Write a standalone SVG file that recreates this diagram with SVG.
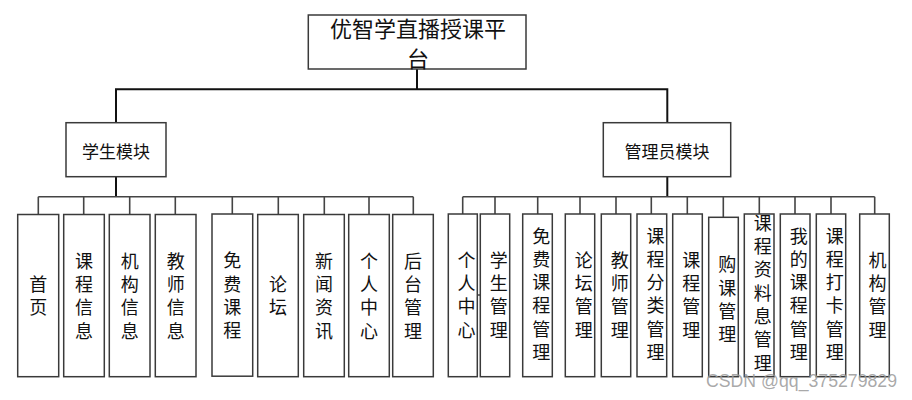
<svg xmlns="http://www.w3.org/2000/svg" width="912" height="400" viewBox="0 0 912 400">
<style>
.bx{fill:#fff;stroke:#3a3a3a;stroke-width:1.5}
.cj{font-family:"Noto Sans CJK SC","Noto Sans CJK JP",sans-serif;fill:#111;text-anchor:middle}
.h{dominant-baseline:central}
.t1{font-size:22px}
.t2{font-size:17px}
.v{font-size:18px;writing-mode:vertical-rl;letter-spacing:5.3px}
.ln{fill:none;stroke:#111;stroke-width:2}
.ln2{fill:none;stroke:#444;stroke-width:1.6}
.wm{font-family:"Liberation Sans",Arial,sans-serif;font-size:17.5px;fill:#9a9a9a;fill-opacity:0.85}
</style>
<rect width="912" height="400" fill="#fff"/>
<g id="connectors">
<path class="ln" d="M417 69V89.3M116 89.3H667.3M116 88.3V122.7M667.3 88.3V122.7"/>
<path class="ln" d="M116 176.7V196.7M667.3 176.7V196.7"/>
<path class="ln2" d="M38.3 196.7H413.3M38.3 196.7V214.5M83.7 196.7V214.5M129.7 196.7V214.5M175.3 196.7V214.5M232.3 196.7V214.5M278.3 196.7V214.5M324.3 196.7V214.5M369 196.7V214.5M413.3 196.7V214.5"/>
<path class="ln2" d="M462.7 196.7H874.7M462.7 196.7V214M495 196.7V214M537.7 196.7V214M580 196.7V214M616 196.7V214M651.3 196.7V214M687.3 196.7V214M723.3 196.7V217.3M759.3 196.7V214M795 196.7V214M831 196.7V214M874.7 196.7V214M477.3 295H480.3"/>
</g>
<g id="root">
<rect class="bx" x="308.3" y="15" width="217.7" height="54"/>
<text class="cj h t1" x="418" y="26.7">优智学直播授课平</text>
<text class="cj h t1" x="418" y="56.7">台</text>
</g>
<g id="student">
<rect class="bx" x="66" y="122.7" width="100" height="54"/>
<text class="cj h t2" x="116" y="150">学生模块</text>
</g>
<g id="admin">
<rect class="bx" x="603.3" y="122.7" width="127.4" height="54"/>
<text class="cj h t2" x="667" y="150">管理员模块</text>
</g>
<g id="s1"><rect class="bx" x="17.7" y="214.5" width="41" height="162.2"/><text class="cj v" x="38.2" y="298.6">首页</text></g>
<g id="s2"><rect class="bx" x="63.7" y="214.5" width="40.6" height="162.2"/><text class="cj v" x="84" y="298.6">课程信息</text></g>
<g id="s3"><rect class="bx" x="109.3" y="214.5" width="40.7" height="162.2"/><text class="cj v" x="129.7" y="298.6">机构信息</text></g>
<g id="s4"><rect class="bx" x="155.3" y="214.5" width="40.7" height="162.2"/><text class="cj v" x="175.7" y="298.6">教师信息</text></g>
<g id="s5"><rect class="bx" x="212" y="214" width="40.7" height="162.2"/><text class="cj v" x="232.3" y="298.1">免费课程</text></g>
<g id="s6"><rect class="bx" x="257.7" y="214.5" width="40.6" height="162.2"/><text class="cj v" x="278" y="298.6">论坛</text></g>
<g id="s7"><rect class="bx" x="303.7" y="214.5" width="40.6" height="162.2"/><text class="cj v" x="324" y="298.6">新闻资讯</text></g>
<g id="s8"><rect class="bx" x="348.7" y="214.5" width="40.6" height="162.2"/><text class="cj v" x="369" y="298.6">个人中心</text></g>
<g id="s9"><rect class="bx" x="392.7" y="214.5" width="40.6" height="162.2"/><text class="cj v" x="413" y="298.6">后台管理</text></g>
<g id="a1"><rect class="bx" x="448.3" y="214" width="29" height="162.7"/><text class="cj v" x="466.5" y="297.6">个人中心</text></g>
<g id="a2"><rect class="bx" x="480.3" y="214" width="29.4" height="162.7"/><text class="cj v" x="498.7" y="297.6">学生管理</text></g>
<g id="a3"><rect class="bx" x="522.7" y="214" width="29.6" height="162.7"/><text class="cj v" x="541.2" y="296.6">免费课程管理</text></g>
<g id="a4"><rect class="bx" x="565.3" y="214" width="29.4" height="162.7"/><text class="cj v" x="583.8" y="297.6">论坛管理</text></g>
<g id="a5"><rect class="bx" x="601.3" y="214" width="29.4" height="162.7"/><text class="cj v" x="619.8" y="297.6">教师管理</text></g>
<g id="a6"><rect class="bx" x="637" y="214" width="29.7" height="162.7"/><text class="cj v" x="655.5" y="296.6">课程分类管理</text></g>
<g id="a7"><rect class="bx" x="672.7" y="214" width="29.6" height="162.7"/><text class="cj v" x="691.2" y="297.6">课程管理</text></g>
<g id="a8"><rect class="bx" x="708.7" y="217.3" width="29.6" height="159.4"/><text class="cj v" x="727.2" y="302.1">购课管理</text></g>
<g id="a9"><rect class="bx" x="744.3" y="214" width="29.7" height="162.7"/><text class="cj v" x="762.8" y="295.6">课程资料息管理</text></g>
<g id="a10"><rect class="bx" x="780.3" y="214" width="29.7" height="162.7"/><text class="cj v" x="798.8" y="296.6">我的课程管理</text></g>
<g id="a11"><rect class="bx" x="816.3" y="214" width="29.4" height="162.7"/><text class="cj v" x="834.8" y="296.6">课程打卡管理</text></g>
<g id="a12"><rect class="bx" x="859.7" y="214" width="29.6" height="162.7"/><text class="cj v" x="877.5" y="297.6">机构管理</text></g>
<text class="wm" x="706" y="387" textLength="191" lengthAdjust="spacingAndGlyphs">CSDN @qq_375279829</text>
</svg>
